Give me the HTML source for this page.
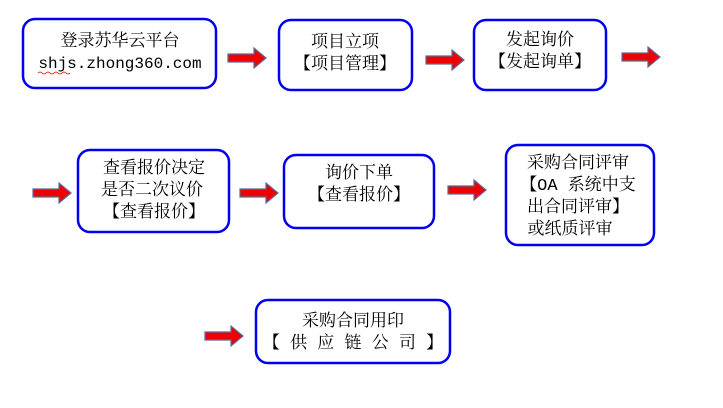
<!DOCTYPE html>
<html><head><meta charset="utf-8"><style>
body{margin:0;background:#fff;width:723px;height:403px;overflow:hidden}
text{font-family:"Liberation Mono","Noto Serif CJK SC","Noto Sans CJK SC",serif;font-size:17px;fill:#000;text-anchor:middle}
</style></head><body>
<svg width="723" height="403" viewBox="0 0 723 403" xmlns="http://www.w3.org/2000/svg">
<defs>
<g id="ar"><path d="M0,-4 H26 V-10 L38,0 L26,10 V4 H0 Z" fill="#ee0000" stroke="#5a6b9a" stroke-width="1.2"/></g>
</defs>
<g fill="none" stroke="#0000ee" stroke-width="2.5">
<rect x="23" y="19" width="193" height="69" rx="12"/>
<rect x="279" y="20" width="133" height="70" rx="12"/>
<rect x="474" y="20" width="132" height="70" rx="12"/>
<rect x="78" y="150" width="151" height="82" rx="12"/>
<rect x="284" y="155" width="150" height="73" rx="12"/>
<rect x="506" y="145" width="148" height="100" rx="12"/>
<rect x="256" y="300" width="194" height="63" rx="12"/>
</g>
<use href="#ar" x="228" y="58"/>
<use href="#ar" x="426" y="60"/>
<use href="#ar" x="622" y="57"/>
<use href="#ar" x="33" y="193"/>
<use href="#ar" x="240" y="193"/>
<use href="#ar" x="448" y="190"/>
<use href="#ar" x="205" y="336"/>
<text x="120" y="46">登录苏华云平台</text>
<text x="120" y="68" style="font-size:16px">shjs.zhong360.com</text>
<path d="M38,73 q2,-2 4,0 t4,0 t4,0 t4,0 t4,0 t4,0 t4,0 t4,0" stroke="#d00" fill="none" stroke-width="0.8"/>
<text x="345" y="47">项目立项</text>
<text x="345" y="69">【项目管理】</text>
<text x="540" y="45">发起询价</text>
<text x="540" y="67">【发起询单】</text>
<text x="154" y="173">查看报价决定</text>
<text x="152" y="195">是否二次议价</text>
<text x="154" y="217">【查看报价】</text>
<text x="359" y="178">询价下单</text>
<text x="359" y="200">【查看报价】</text>
<text x="578" y="168">采购合同评审</text>
<text x="578" y="190">【OA 系统中支</text>
<text x="578" y="212">出合同评审】</text>
<text x="570" y="234">或纸质评审</text>
<text x="353" y="326">采购合同用印</text>
<text x="353" y="348">【 供 应 链 公 司 】</text>
</svg>
</body></html>
